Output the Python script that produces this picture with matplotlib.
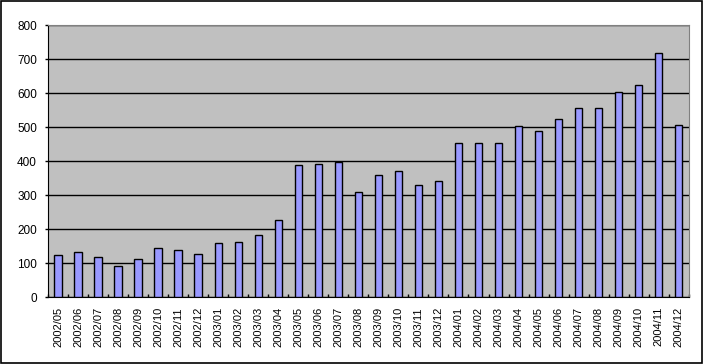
import numpy as np
import matplotlib.pyplot as plt
from matplotlib.patches import Rectangle

plt.rcParams['font.family'] = ['Liberation Sans', 'DejaVu Sans']

months = ['2002/05', '2002/06', '2002/07', '2002/08', '2002/09', '2002/10', '2002/11', '2002/12',
          '2003/01', '2003/02', '2003/03', '2003/04', '2003/05', '2003/06', '2003/07', '2003/08',
          '2003/09', '2003/10', '2003/11', '2003/12', '2004/01', '2004/02', '2004/03', '2004/04',
          '2004/05', '2004/06', '2004/07', '2004/08', '2004/09', '2004/10', '2004/11', '2004/12']
values = [124, 132, 120, 91, 112, 144, 138, 126,
          159, 162, 182, 226, 388, 391, 397, 309,
          359, 371, 329, 341, 453, 453, 453, 503,
          488, 524, 556, 556, 603, 624, 718, 506]
yticks = [0, 100, 200, 300, 400, 500, 600, 700, 800]

fig = plt.figure(figsize=(7.03, 3.64), dpi=100)
ax = fig.add_axes([0.0683, 0.1832, 0.9114, 0.7473])

x = np.arange(len(months))
ax.set_facecolor('#C0C0C0')
ax.bar(x, values, width=0.37, color='#9999FF', edgecolor='black', linewidth=1, zorder=3)

# 网格线
ax.set_ylim(0, 800)
ax.set_yticks(yticks)
ax.yaxis.grid(True, color='black', linewidth=1, zorder=0)
ax.set_axisbelow(True)

ax.set_xlim(-0.5, len(months) - 0.5)
ax.set_xticks(x)
ax.set_xticklabels(months, rotation=90, fontsize=8)
ax.set_xticks(np.arange(len(months) + 1) - 0.5, minor=True)
ax.tick_params(axis='x', which='major', length=0, pad=7)
ax.tick_params(axis='x', which='minor', length=2.5, direction='in', width=1)
ax.tick_params(axis='y', labelsize=8.5, length=2, direction='out', width=1, pad=6)

ax.spines['top'].set_color('#808080')
ax.spines['right'].set_color('#808080')
ax.spines['left'].set_color('black')
ax.spines['bottom'].set_color('black')

# 外框
fig.patches.append(Rectangle((0.001, 0.002), 0.997, 0.995, transform=fig.transFigure,
                             fill=False, edgecolor='black', linewidth=1.2))

fig.savefig('out.png', dpi=100)
